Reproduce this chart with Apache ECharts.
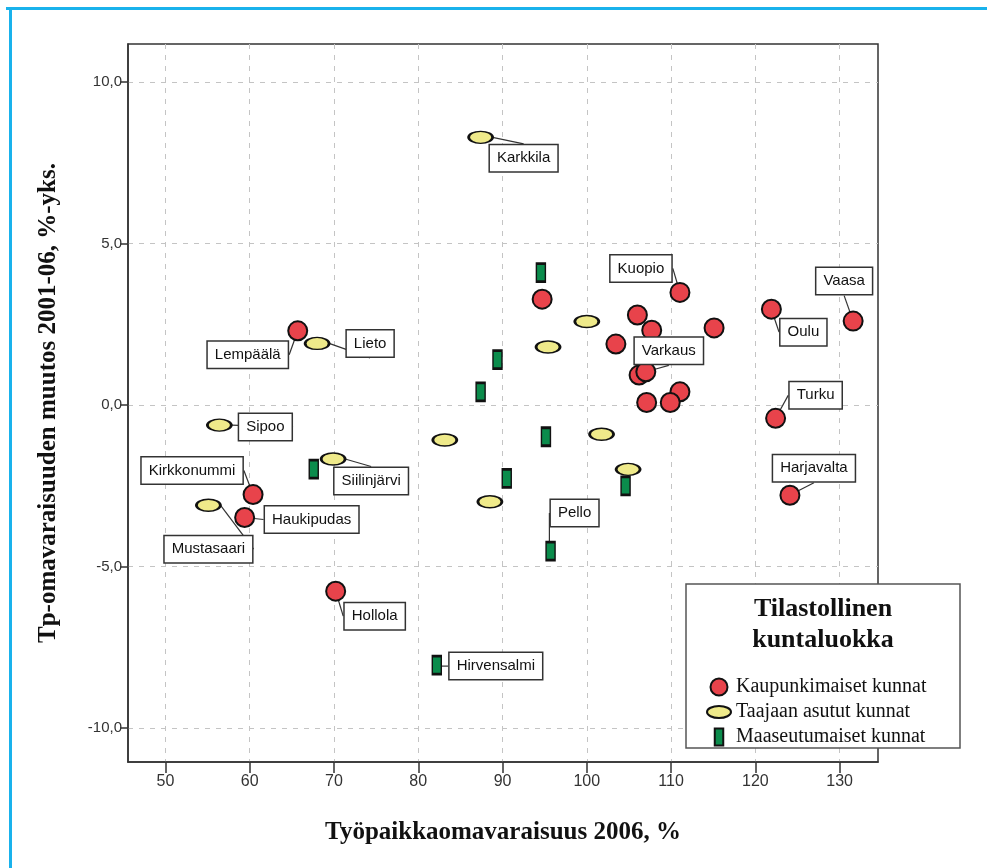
<!DOCTYPE html>
<html>
<head>
<meta charset="utf-8">
<script src="https://cdn.jsdelivr.net/npm/echarts@6/dist/echarts.min.js"></script>
<style>
  html, body { margin: 0; padding: 0; background: #fff; }
  #chart { width: 987px; height: 868px; }
</style>
</head>
<body>
<div id="chart"></div>
<script>
// Kaupunkimaiset kunnat
const kaupunkiNimet = ['Lempäälä', '', 'Kuopio', '', '', '', '', '', 'Varkaus', '', '', '', 'Oulu', 'Vaasa', 'Turku', 'Harjavalta', 'Kirkkonummi', 'Haukipudas', 'Hollola'];
const kaupunkiX = [65.7, 94.7, 111.05, 106.0, 107.7, 115.1, 103.45, 106.2, 107.0, 111.05, 109.9, 107.1, 121.9, 131.6, 122.4, 124.1, 60.4, 59.4, 70.2];
const kaupunkiY = [2.30, 3.28, 3.49, 2.79, 2.32, 2.39, 1.89, 0.93, 1.03, 0.41, 0.08, 0.08, 2.97, 2.60, -0.41, -2.79, -2.77, -3.48, -5.76];

// Taajaan asutut kunnat
const taajamaNimet = ['Karkkila', 'Lieto', '', '', 'Sipoo', '', 'Siilinjärvi', '', '', '', 'Mustasaari'];
const taajamaX = [87.4, 68.0, 100.0, 95.4, 56.4, 83.15, 69.9, 101.75, 104.9, 88.5, 55.1];
const taajamaY = [8.29, 1.91, 2.59, 1.80, -0.62, -1.08, -1.67, -0.90, -1.99, -2.99, -3.10];

// Maaseutumaiset kunnat
const maaseutuNimet = ['', '', '', '', '', '', 'Pello', '', 'Hirvensalmi'];
const maaseutuX = [89.4, 87.4, 94.55, 95.15, 104.6, 90.5, 95.7, 67.6, 82.2];
const maaseutuY = [1.41, 0.41, 4.10, -0.98, -2.50, -2.27, -4.52, -1.98, -8.05];

const xTicks = [50, 60, 70, 80, 90, 100, 110, 120, 130];
const yTicks = [-10, -5, 0, 5, 10];

// label box centre relative to the marker (px)
const labelOffset = {
  'Karkkila': [43, 21], 'Kuopio': [-39, -24], 'Vaasa': [-9, -40], 'Oulu': [32, 23],
  'Varkaus': [23, -21], 'Turku': [40, -23], 'Harjavalta': [24, -27], 'Pello': [24, -38],
  'Lempäälä': [-50, 24], 'Lieto': [53, 0], 'Sipoo': [46, 2], 'Kirkkonummi': [-61, -24],
  'Siilinjärvi': [38, 22], 'Haukipudas': [67, 2], 'Mustasaari': [0, 44], 'Hollola': [39, 25],
  'Hirvensalmi': [59, 1]
};

function pts(xs, ys, names) {
  return xs.map((x, i) => ({ name: names[i], value: [x, ys[i]] }));
}

const ellipse = 'path://M0,6 A12,6 0 1,1 24,6 A12,6 0 1,1 0,6 Z';
const bar = 'path://M0,0 L9,0 L9,18 L0,18 Z';

const labelBase = {
  show: true,
  formatter: p => p.name,
  fontFamily: 'Liberation Sans, Arial, sans-serif',
  fontSize: 15,
  color: '#111',
  backgroundColor: '#fff',
  borderColor: '#333',
  borderWidth: 1.5,
  padding: [6, 7, 5, 7]
};

function labelLayout(params) {
  const item = chart.getOption().series[params.seriesIndex].data[params.dataIndex];
  const off = labelOffset[item.name];
  if (!off) return {};
  const r = params.rect;
  return {
    x: r.x + r.width / 2 + off[0],
    y: r.y + r.height / 2 + off[1],
    align: 'center',
    verticalAlign: 'middle'
  };
}

function makeSeries(name, data, symbol, size, color, z) {
  return {
    name: name,
    type: 'scatter',
    symbol: symbol,
    symbolSize: size,
    z: z,
    data: data.map(d => ({
      name: d.name,
      value: d.value,
      label: Object.assign({}, labelBase, { show: d.name !== '' })
    })),
    itemStyle: { color: color, borderColor: '#111', borderWidth: 2, opacity: 1 },
    label: labelBase,
    labelLine: { show: true, lineStyle: { color: '#333', width: 1.2 } },
    labelLayout: labelLayout,
    emphasis: { disabled: true }
  };
}

const chart = echarts.init(document.getElementById('chart'));

const option = {
  backgroundColor: '#fff',
  animation: false,
  grid: {
    left: 128, top: 44, right: 109, bottom: 106,
    show: true, borderColor: '#333', borderWidth: 1.5, backgroundColor: 'transparent'
  },
  xAxis: {
    type: 'value',
    min: 45.56, max: 134.55,
    splitNumber: 9,
    name: 'Työpaikkaomavaraisuus 2006, %',
    nameLocation: 'middle',
    nameGap: 58,
    nameTextStyle: { fontFamily: 'Liberation Serif, serif', fontWeight: 'bold', fontSize: 25, color: '#111' },
    axisLine: { show: true, onZero: false, lineStyle: { color: '#333', width: 1.5 } },
    axisTick: { show: true, length: 11, customValues: xTicks, lineStyle: { color: '#333', width: 1.5 } },
    axisLabel: {
      customValues: xTicks, margin: 12,
      fontFamily: 'Liberation Sans Narrow, Liberation Sans, sans-serif', fontSize: 16, color: '#333'
    },
    splitLine: { show: true, lineStyle: { color: '#c4c4c4', type: [5, 6], width: 1 } }
  },
  yAxis: {
    type: 'value',
    min: -11.05, max: 11.18,
    splitNumber: 4,
    name: 'Tp-omavaraisuuden muutos 2001-06, %-yks.',
    nameLocation: 'middle',
    nameGap: 67,
    nameTextStyle: { fontFamily: 'Liberation Serif, serif', fontWeight: 'bold', fontSize: 25, color: '#111' },
    axisLine: { show: true, onZero: false, lineStyle: { color: '#333', width: 1.5 } },
    axisTick: { show: true, length: 8, customValues: yTicks, lineStyle: { color: '#333', width: 1.5 } },
    axisLabel: {
      customValues: yTicks, margin: 6,
      formatter: v => v.toFixed(1).replace('.', ','),
      fontFamily: 'Liberation Sans, sans-serif', fontSize: 15, color: '#333'
    },
    splitLine: { show: true, lineStyle: { color: '#c4c4c4', type: [5, 6], width: 1 } }
  },
  legend: {
    orient: 'vertical',
    left: 701, top: 672,
    itemGap: 5,
    itemWidth: 24, itemHeight: 17,
    z: 20,
    selectedMode: false,
    textStyle: { fontFamily: 'Liberation Serif, serif', fontSize: 20, color: '#111', lineHeight: 20 },
    data: [
      { name: 'Kaupunkimaiset kunnat', icon: 'circle' },
      { name: 'Taajaan asutut kunnat', icon: ellipse },
      { name: 'Maaseutumaiset kunnat', icon: bar }
    ]
  },
  graphic: [
    { type: 'line', z: 30, shape: { x1: 6, y1: 8.5, x2: 987, y2: 8.5 }, style: { stroke: '#19b2ec', lineWidth: 3 } },
    { type: 'line', z: 30, shape: { x1: 10.5, y1: 7, x2: 10.5, y2: 868 }, style: { stroke: '#19b2ec', lineWidth: 3 } },
    { type: 'rect', z: 10, shape: { x: 686, y: 584, width: 274, height: 164 }, style: { fill: '#fff', stroke: '#555', lineWidth: 1.5 } },
    {
      type: 'text', z: 11, x: 823, y: 594,
      style: {
        text: 'Tilastollinen\nkuntaluokka', align: 'center', textAlign: 'center',
        font: 'bold 26px "Liberation Serif", serif', fill: '#111', lineHeight: 31
      }
    }
  ],
  series: [
    makeSeries('Maaseutumaiset kunnat', pts(maaseutuX, maaseutuY, maaseutuNimet), bar, [9, 18], '#0b8c4c', 2),
    makeSeries('Kaupunkimaiset kunnat', pts(kaupunkiX, kaupunkiY, kaupunkiNimet), 'circle', 19, '#e8434b', 3),
    makeSeries('Taajaan asutut kunnat', pts(taajamaX, taajamaY, taajamaNimet), ellipse, [24, 12], '#efea8a', 4)
  ]
};

chart.setOption(option);
</script>
</body>
</html>
